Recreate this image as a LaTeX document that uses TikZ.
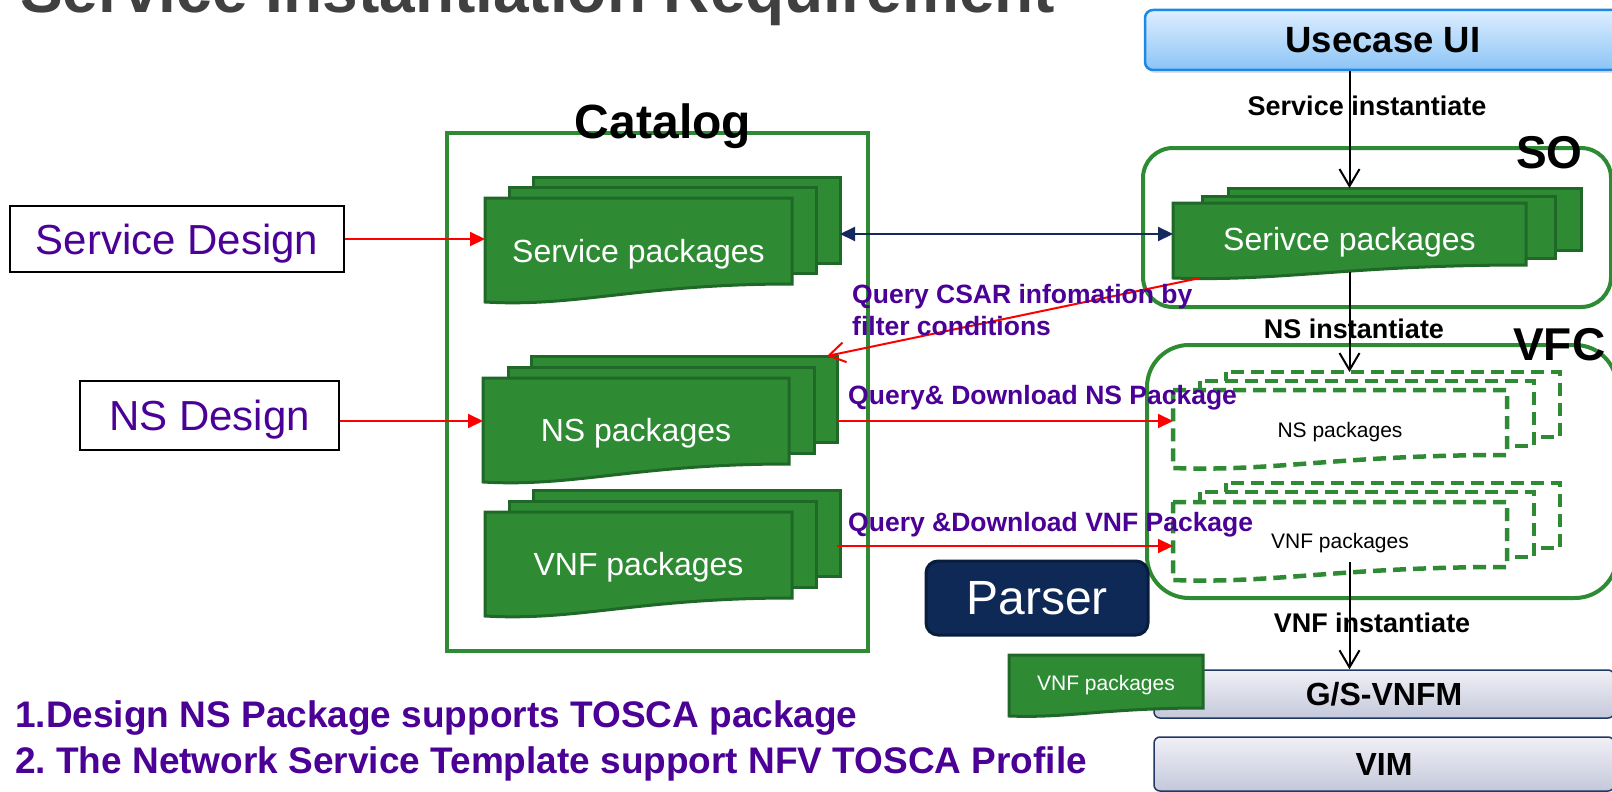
\documentclass[tikz,border=0pt]{standalone}
\usepackage{fontspec}
\setmainfont{Liberation Sans}
\usetikzlibrary{positioning,arrows.meta,calc,shadows}

\definecolor{titlegray}{RGB}{64,64,64}
\definecolor{pkggreen}{RGB}{46,139,52}
\definecolor{pkgedge}{RGB}{31,104,40}
\definecolor{txtpurple}{RGB}{75,0,150}
\definecolor{linknavy}{RGB}{20,42,92}
\definecolor{parsernavy}{RGB}{14,41,86}
\definecolor{parseredge}{RGB}{8,28,62}
\definecolor{uitop}{RGB}{222,238,255}
\definecolor{uibottom}{RGB}{140,196,246}
\definecolor{uiedge}{RGB}{30,136,229}
\definecolor{vnfmtop}{RGB}{240,240,246}
\definecolor{vnfmbottom}{RGB}{196,200,218}
\definecolor{vnfmedge}{RGB}{31,56,100}

\newcommand{\setfs}[1]{\fontsize{#1}{#1}\selectfont}

% wavy front page drawn round node #1
\newcommand{\pkgpage}[3]{%
  \draw[#2] (#1.north west) -- (#1.north east) -- (#1.south east)
    .. controls (#1.south) and ($(#1.south west)!0.6!(#1.south)+(0,1.3*#3)$)
    .. ($(#1.south west)+(0,#3)$) -- cycle;}
% two pages behind it, then the front page
\newcommand{\pkgstack}[7]{%
  \draw[#2] ($(#1.north west)+(#5,#6)$) rectangle ($(#1.south east)+(#5,#6)$);
  \draw[#2] ($(#1.north west)+(#3,#4)$) rectangle ($(#1.south east)+(#3,#4)$);
  \pkgpage{#1}{#2}{#7}}

\tikzset{
  page/.style={inner sep=0pt, outer sep=0pt},
  pkg/.style={draw=pkgedge, fill=pkggreen, line width=3pt},
  pkgdash/.style={draw=pkggreen, fill=white, line width=4.5pt, dash pattern=on 13pt off 7pt},
  pkgtext/.style={anchor=base, text=white, font=\setfs{32}},
  dashtext/.style={anchor=base, text=black, font=\setfs{21}},
  design/.style={draw=black, line width=1.5pt, text=txtpurple, font=\setfs{42}, text depth=0pt},
  frame/.style={draw=pkggreen, line width=4pt},
  feed/.style={red, line width=2pt, -{Triangle[length=15pt,width=14pt]}},
  csar/.style={red, line width=2pt, -{Straight Barb[length=16pt,width=20pt]}},
  inst/.style={black, line width=2pt, -{Straight Barb[length=17pt,width=20pt]}},
  link/.style={linknavy, line width=2pt, {Triangle[length=15pt,width=14pt]}-{Triangle[length=15pt,width=14pt]}},
  qlabel/.style={anchor=base west, text=txtpurple, font=\bfseries\setfs{26.5}},
  instlabel/.style={anchor=base, font=\bfseries\setfs{27}},
  big/.style={anchor=base west, font=\bfseries\setfs{46}},
  layer/.style={draw=vnfmedge, line width=1.5pt, rounded corners=6pt, top color=vnfmtop, bottom color=vnfmbottom, font=\bfseries\setfs{32}},
  note/.style={anchor=base west, text=txtpurple, font=\bfseries\setfs{37}}
}

\begin{document}
\begin{tikzpicture}[x=1pt,y=-1pt,inner sep=0pt]

\useasboundingbox (0,0) rectangle (1612,792);
\clip (0,0) rectangle (1612,792);
\fill[white] (0,0) rectangle (1612,792);

\node[anchor=base west, text=titlegray, font=\bfseries\setfs{64}] (title) at (20,13) {Service Instantiation Requirement};

%-------------------Catalog-------------------%
\node[frame, line width=3.5pt, minimum width=421pt, minimum height=518pt] (catalog) at (657.5,392) {};
\node[anchor=base, font=\bfseries\setfs{48}] (catalog-l) at (663,138) {Catalog};

\node[page, minimum width=307pt, minimum height=86pt] (catsvc) at (638.5,241) {};
\pkgstack{catsvc}{pkg}{24}{-11}{48}{-21}{18}
\node[pkgtext] (catsvc-t) at ($(catsvc.center)+(0,21)$) {Service packages};

\node[page, minimum width=306pt, minimum height=86pt] (catns) at (636,421) {};
\pkgstack{catns}{pkg}{25}{-11}{48}{-22}{18}
\node[pkgtext] (catns-t) at ($(catns.center)+(0,20)$) {NS packages};

\node[page, minimum width=307pt, minimum height=86pt] (catvnf) at (638.5,555) {};
\pkgstack{catvnf}{pkg}{24}{-11}{48}{-22}{18}
\node[pkgtext] (catvnf-t) at ($(catvnf.center)+(0,20)$) {VNF packages};
%----------------------------------------------%

%-------------------Design--------------------%
\node[design, minimum width=334pt, minimum height=66pt] (sd) at (177,239) {Service Design};
\node[design, minimum width=259pt, minimum height=69pt] (nsd) at (209.5,415.5) {NS Design};
\draw[feed] (sd.east) -- (sd.east -| catsvc.west);
\draw[feed] (catns.west -| nsd.east) -- (catns.west);
%----------------------------------------------%

%-------------------Usecase UI / SO-----------%
\node[draw=uiedge, line width=2.5pt, rounded corners=8pt, top color=uitop, bottom color=uibottom,
  drop shadow={shadow xshift=2pt, shadow yshift=-3pt, opacity=0.25},
  minimum width=476pt, minimum height=60pt, font=\bfseries\setfs{36.5}] (ui) at (1383,40) {Usecase UI};

\node[frame, rounded corners=30pt, minimum width=468pt, minimum height=159pt] (so) at (1377,227.5) {};
\node[big] (so-l) at (1516,168) {SO};

\node[page, minimum width=353pt, minimum height=62pt] (sosvc) at (1349.5,234) {};
\pkgstack{sosvc}{pkg}{29}{-7}{55}{-15}{13}
\node[pkgtext] (sosvc-t) at ($(sosvc.center)+(0,16)$) {Serivce packages};
%----------------------------------------------%

%-------------------VFC-----------------------%
\node[frame, rounded corners=42pt, minimum width=470pt, minimum height=253pt] (vfc) at (1382,471.5) {};

\node[page, minimum width=334pt, minimum height=65pt] (vfcns) at (1340,422.5) {};
\pkgstack{vfcns}{pkgdash}{27}{-9}{53}{-18}{13}
\node[dashtext] (vfcns-t) at ($(vfcns.center)+(0,14.5)$) {NS packages};

\node[page, minimum width=334pt, minimum height=65pt] (vfcvnf) at (1340,534.5) {};
\pkgstack{vfcvnf}{pkgdash}{27}{-10}{53}{-19}{13}
\node[dashtext] (vfcvnf-t) at ($(vfcvnf.center)+(0,13.5)$) {VNF packages};

\node[big] (vfc-l) at (1513,360) {VFC};
%----------------------------------------------%

%-------------------Queries-------------------%
\draw[link] ($(catsvc.east |- sosvc.west)+(48,0)$) -- (sosvc.west);
\draw[csar] ($(sosvc.south west)+(27,13)$) -- ($(catns.north east)+(38,-22)$);
\node[qlabel] (csar-l1) at (852,303) {Query CSAR infomation by};
\node[qlabel] (csar-l2) at (852,335) {filter conditions};

\draw[feed] ($(catns.east)+(48,0)$) -- (catns.east -| vfcns.west);
\node[qlabel] (nsq-l) at (848,404) {Query\& Download NS Package};

\coordinate (vnfq) at ($(catvnf.east)+(45,-9)$);
\draw[feed] (vnfq) -- (vnfq -| vfcvnf.west);
\node[qlabel] (vnfq-l) at (848,531) {Query \&Download VNF Package};
%----------------------------------------------%

%-------------------Parser / VNFM / VIM-------%
\node[draw=parseredge, fill=parsernavy, line width=3pt, rounded corners=12pt, minimum width=222pt, minimum height=74pt,
  text=white, font=\setfs{48}, text depth=0pt] (parser) at (1037,598) {Parser};

\node[layer, minimum width=460pt, minimum height=48pt] (vnfm) at (1384,694) {G/S-VNFM};
\node[layer, minimum width=460pt, minimum height=54pt] (vim) at (1384,764) {VIM};

\node[page, minimum width=194pt, minimum height=53pt] (vnfpkg) at (1106,681.5) {};
\pkgpage{vnfpkg}{pkg}{8}
\node[pkgtext, font=\setfs{21}] (vnfpkg-t) at ($(vnfpkg.center)+(0,8.5)$) {VNF packages};
%----------------------------------------------%

%-------------------Instantiate---------------%
\draw[inst] (ui.south -| sosvc.north) -- ($(sosvc.north)+(0,-15)$);
\node[instlabel] (si-l) at (1367,115) {Service instantiate};
\draw[inst] ($(sosvc.south)+(0,7)$) -- ($(vfcns.north -| sosvc.south)+(0,-18)$);
\node[instlabel] (ni-l) at (1354,338) {NS instantiate};
\draw[inst] ($(vfcvnf.south -| sosvc.south)+(0,-5)$) -- (vnfm.north -| sosvc.south);
\node[instlabel] (vi-l) at (1372,632) {VNF instantiate};
%----------------------------------------------%

\node[note] (note1) at (15,727) {1.Design NS Package supports TOSCA package};
\node[note] (note2) at (15,773) {2.\ The Network Service Template support NFV TOSCA Profile};

\end{tikzpicture}
\end{document}
